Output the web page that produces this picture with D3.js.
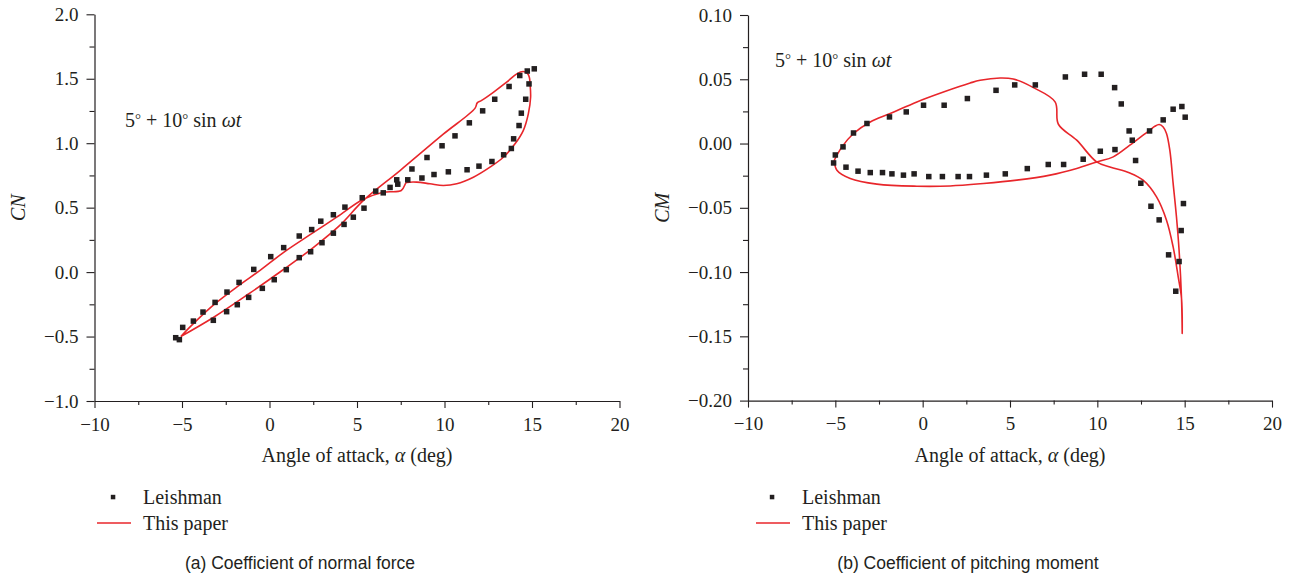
<!DOCTYPE html>
<html><head><meta charset="utf-8">
<script src="https://cdn.jsdelivr.net/npm/d3@7"></script>
<style>
body{margin:0;background:#fff}
svg{display:block}
text{font-family:"Liberation Serif","Times New Roman",serif;fill:#231f20}
</style>
</head><body>
<svg id="c" width="1296" height="578"></svg>
<script>
// ---------- data ----------
const xTicks = [-10, -5, 0, 5, 10, 15, 20];
const xMinor = [-7.5, -2.5, 2.5, 7.5, 12.5, 17.5];
const cnTicks = [-1.0, -0.5, 0.0, 0.5, 1.0, 1.5, 2.0];
const cnMinor = [-0.75, -0.25, 0.25, 0.75, 1.25, 1.75];
const cmTicks = [-0.20, -0.15, -0.10, -0.05, 0.00, 0.05, 0.10];
const cmMinor = [-0.175, -0.125, -0.075, -0.025, 0.025, 0.075];

// CN, Leishman (experiment)
const cnLeishAlpha = [-5.36,-5.15,-4.96,-4.35,-3.8,-3.11,-2.43,-1.74,-0.9,0.07,0.81,1.7,2.41,2.93,3.65,4.31,5.3,6.07,6.89,7.27,7.9,8.14,9.0,9.86,10.6,11.42,12.18,12.87,13.69,14.3,14.73,15.13,14.83,14.64,14.39,14.26,13.95,13.82,13.38,12.71,11.97,11.29,10.22,9.4,8.71,7.33,6.5,5.4,4.79,4.26,3.65,3.0,2.35,1.7,0.96,0.27,-0.41,-1.19,-1.84,-2.45,-3.21];
const cnLeish      = [-0.509,-0.524,-0.429,-0.38,-0.31,-0.235,-0.155,-0.08,0.021,0.12,0.19,0.28,0.33,0.395,0.445,0.504,0.577,0.628,0.657,0.716,0.716,0.80,0.889,0.98,1.057,1.158,1.251,1.341,1.44,1.525,1.56,1.577,1.46,1.341,1.233,1.137,1.034,0.959,0.91,0.858,0.822,0.794,0.778,0.757,0.73,0.682,0.615,0.496,0.426,0.37,0.302,0.228,0.158,0.112,0.019,-0.059,-0.126,-0.196,-0.253,-0.307,-0.374];

// CN, this paper (closed loop)
const cnPaperAlpha = [-5.07,-3.21,-1.2,0.8,2.5,4.0,5.4,7.46,9.93,11.74,11.87,12.1,12.79,13.55,14.13,14.5,14.75,14.85,14.89,14.92,14.79,14.5,14.03,13.36,12.6,11.65,10.7,9.93,9.17,8.41,7.84,7.8,7.53,6.5,5.36,3.84,2.41,0.83,-0.54,-1.74,-3.11,-4.35,-5.07];
const cnPaper      = [-0.50,-0.352,-0.17,0.02,0.19,0.36,0.56,0.788,1.07,1.27,1.313,1.33,1.395,1.473,1.538,1.556,1.54,1.51,1.46,1.357,1.228,1.098,0.995,0.891,0.814,0.736,0.685,0.672,0.685,0.698,0.695,0.693,0.633,0.62,0.565,0.426,0.298,0.155,0.013,-0.103,-0.245,-0.40,-0.50];

// CM, Leishman (experiment)
const cmLeishAlpha = [-5.1,-5.0,-4.56,-3.96,-3.19,-1.9,-0.94,0.05,1.23,2.56,4.2,5.27,6.45,8.17,9.27,10.22,10.99,11.37,11.82,12.0,12.19,12.49,13.07,13.54,14.08,14.49,14.68,14.8,14.93,15.03,14.84,14.34,13.77,12.99,11.01,10.17,9.19,8.07,7.19,5.99,4.73,3.65,2.68,2.03,1.13,0.35,-0.49,-1.1,-1.76,-2.3,-3.0,-3.7,-4.39];
const cmLeish      = [-0.0151,-0.0089,-0.0026,0.0082,0.0156,0.0207,0.0246,0.0298,0.0298,0.035,0.0414,0.0456,0.0456,0.0518,0.0539,0.0539,0.0435,0.0308,0.0098,0.0026,-0.0132,-0.0309,-0.0488,-0.0594,-0.0866,-0.1149,-0.0918,-0.0677,-0.0467,0.0205,0.0288,0.0267,0.0184,0.0098,-0.0047,-0.006,-0.0122,-0.0163,-0.0163,-0.0195,-0.0236,-0.0246,-0.0257,-0.0257,-0.0257,-0.0257,-0.0236,-0.0246,-0.0236,-0.0226,-0.0226,-0.0215,-0.0184];

// CM, this paper (closed loop)
const cmPaperAlpha = [-5.06,-4.91,-4.15,-2.62,-0.33,1.57,3.48,5.39,7.29,8.82,9.96,10.91,11.86,12.62,13.0,13.29,13.54,13.77,13.96,14.15,14.34,14.53,14.68,14.82,14.86,14.82,14.63,14.34,13.96,13.39,12.62,11.86,10.72,9.96,8.82,7.77,7.58,6.34,5.19,4.43,3.29,2.72,1.19,-0.33,-1.86,-3.0,-3.96,-4.62,-5.06];
const cmPaper      = [-0.013,-0.0208,-0.0272,-0.0316,-0.0332,-0.033,-0.0311,-0.0285,-0.0246,-0.0194,-0.0143,-0.0104,-0.0013,0.0065,0.0103,0.0134,0.0148,0.0129,0.0078,-0.0052,-0.031,-0.057,-0.083,-0.1205,-0.1477,-0.1205,-0.1037,-0.0804,-0.0596,-0.0415,-0.0285,-0.0229,-0.0182,-0.0143,0.0026,0.015,0.0324,0.0435,0.0502,0.051,0.0492,0.0471,0.0401,0.0324,0.0233,0.0168,0.0078,-0.0026,-0.013];

const seriesNames = ["Leishman", "This paper"];
// ---------- drawing ----------
const ink = "#231f20", red = "#e8262b";
const svg = d3.select("#c");

function panel(cfg) {
  const g = svg.append("g");
  const x = d3.scaleLinear().domain([-10, 20]).range([cfg.x0, cfg.x1]);
  const y = d3.scaleLinear().domain(cfg.yDomain).range([cfg.yb, cfg.yt]);

  // minor ticks
  g.append("g").attr("transform", `translate(0,${cfg.yb})`)
    .call(d3.axisBottom(x).tickValues(xMinor).tickSize(4).tickFormat("").tickSizeOuter(0))
    .call(s => s.select(".domain").remove());
  g.append("g").attr("transform", `translate(${cfg.x0},0)`)
    .call(d3.axisLeft(y).tickValues(cfg.minor).tickSize(5).tickFormat("").tickSizeOuter(0))
    .call(s => s.select(".domain").remove());
  // major
  const xa = g.append("g").attr("transform", `translate(0,${cfg.yb})`)
    .call(d3.axisBottom(x).tickValues(xTicks).tickSize(7).tickSizeOuter(0).tickPadding(9).tickFormat(d3.format("d")));
  const ya = g.append("g").attr("transform", `translate(${cfg.x0},0)`)
    .call(d3.axisLeft(y).tickValues(cfg.ticks).tickSize(8).tickSizeOuter(0).tickPadding(8).tickFormat(d3.format(cfg.fmt)));
  g.selectAll(".tick line").attr("stroke", ink).attr("stroke-width", 1.1);
  g.selectAll(".domain").attr("stroke", ink).attr("stroke-width", 1.2);
  [xa, ya].forEach(a => a.selectAll("text")
    .style("font-family", '"Liberation Serif",serif').style("font-size", "19px").attr("fill", ink));
  xa.selectAll("text").attr("dy", "0.72em");

  // y label
  g.append("text").attr("transform", `translate(${cfg.ylabX},${(cfg.yb + cfg.yt) / 2}) rotate(-90)`)
    .attr("text-anchor", "middle").attr("dy", "0.35em")
    .style("font-size", "20px").style("font-style", "italic").text(cfg.ylab);
  // x label
  const xl = g.append("text").attr("x", (cfg.x0 + cfg.x1) / 2).attr("y", cfg.yb + 61)
    .attr("text-anchor", "middle").style("font-size", "20px");
  xl.append("tspan").text("Angle of attack, ");
  xl.append("tspan").style("font-style", "italic").text("α");
  xl.append("tspan").text(" (deg)");

  // annotation
  const an = g.append("text").attr("x", cfg.annX).attr("y", cfg.annY).style("font-size", "20px");
  an.append("tspan").text("5");
  an.append("tspan").attr("dy", -3).style("font-size", "15px").text("°");
  an.append("tspan").attr("dy", 3).text(" + 10");
  an.append("tspan").attr("dy", -3).style("font-size", "15px").text("°");
  an.append("tspan").attr("dy", 3).text(" sin ");
  an.append("tspan").style("font-style", "italic").text("ωt");

  // model line
  const pts = cfg.lineA.map((a, i) => [a, cfg.lineV[i]]);
  g.append("path").datum(pts)
    .attr("d", d3.line().x(d => x(d[0])).y(d => y(d[1])).curve(d3.curveCatmullRom.alpha(0.5)))
    .attr("fill", "none").attr("stroke", red).attr("stroke-width", 1.6).attr("stroke-linejoin", "round");

  // experimental points
  const ms = 5.5;
  g.selectAll("rect.pt").data(cfg.ptA.map((a, i) => [a, cfg.ptV[i]])).enter().append("rect")
    .attr("class", "pt")
    .attr("x", d => x(d[0]) - ms / 2).attr("y", d => y(d[1]) - ms / 2)
    .attr("width", ms).attr("height", ms).attr("fill", ink);

  // legend
  const lx = cfg.legX;
  g.append("rect").attr("x", lx - 2.2).attr("y", 494.8).attr("width", 4.5).attr("height", 4.5).attr("fill", ink);
  g.append("text").attr("x", lx + 30).attr("y", 503.5).style("font-size", "20px").text(seriesNames[0]);
  g.append("line").attr("x1", lx - 16).attr("x2", lx + 18).attr("y1", 523).attr("y2", 523)
    .attr("stroke", red).attr("stroke-width", 1.4);
  g.append("text").attr("x", lx + 30).attr("y", 530).style("font-size", "20px").text(seriesNames[1]);

  // caption
  g.append("text").attr("x", cfg.capX).attr("y", 568.5).attr("text-anchor", "middle")
    .style("font-family", '"Liberation Sans",Arial,sans-serif').style("font-size", "17.5px")
    .text(cfg.caption);
}

panel({x0: 94.5, x1: 619.5, yb: 401, yt: 14.3, yDomain: [-1.0, 2.0], ticks: cnTicks, minor: cnMinor,
  fmt: ".1f", ylab: "CN", ylabX: 18, annX: 125, annY: 127,
  lineA: cnPaperAlpha, lineV: cnPaper, ptA: cnLeishAlpha, ptV: cnLeish,
  legX: 113, capX: 300, caption: "(a)  Coefficient of normal force"});
panel({x0: 748, x1: 1272, yb: 400.6, yt: 15, yDomain: [-0.20, 0.10], ticks: cmTicks, minor: cmMinor,
  fmt: ".2f", ylab: "CM", ylabX: 662, annX: 775, annY: 67,
  lineA: cmPaperAlpha, lineV: cmPaper, ptA: cmLeishAlpha, ptV: cmLeish,
  legX: 772, capX: 968, caption: "(b)  Coefficient of pitching moment"});
</script>
</body></html>
